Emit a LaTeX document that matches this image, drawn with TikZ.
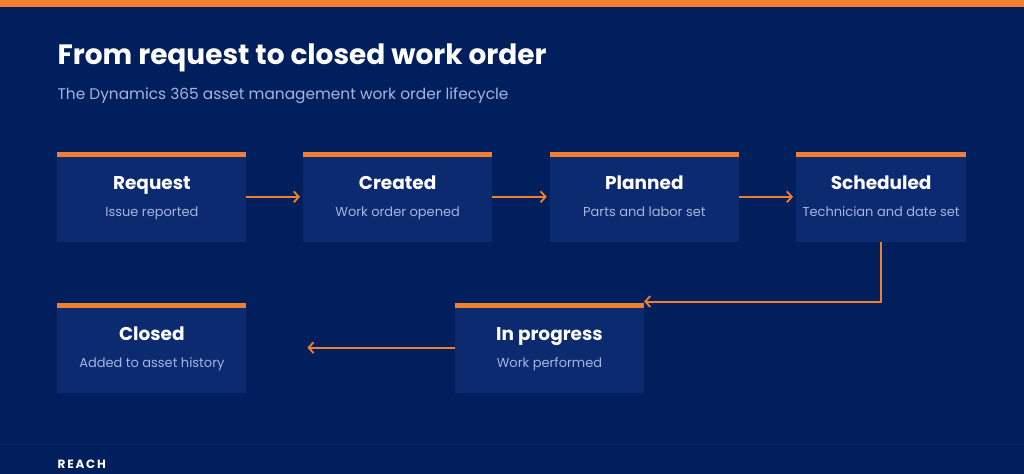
\documentclass[tikz,border=0pt]{standalone}
\usepackage{fontspec}
\setmainfont{Poppins}
\usetikzlibrary{arrows.meta}
\definecolor{navy}{RGB}{0,31,92}
\definecolor{boxblue}{RGB}{11,42,112}
\definecolor{accent}{RGB}{240,128,48}
\definecolor{softblue}{RGB}{165,182,222}
\definecolor{rule}{RGB}{10,40,105}
\begin{document}
\begin{tikzpicture}[x=1pt,y=-1pt,
	stage/.style={fill=boxblue, minimum width=189pt, minimum height=90pt, inner sep=0pt},
	stagetitle/.style={anchor=base, text=white, font=\fontsize{18.5}{22}\selectfont\bfseries},
	stagesub/.style={anchor=base, text=softblue, font=\fontsize{13}{16}\selectfont},
	flow/.style={draw=accent, line width=2pt, -{Straight Barb[length=5pt,width=11pt,line width=1.8pt]}}]
		% background and top band
		\fill[navy] (0,0) rectangle (1024,474);
		\fill[accent] (0,0) rectangle (1024,7);
		\draw[rule, line width=1pt] (0,445) -- (1024,445);

		\node[anchor=base west, inner sep=0pt, text=white, font=\fontsize{28}{32}\selectfont\bfseries] (title) at (57,65) {From request to closed work order};
		\node[anchor=base west, inner sep=0pt, text=softblue, font=\fontsize{15.4}{18}\selectfont] (subtitle) at (57,100) {The Dynamics 365 asset management work order lifecycle};

		% stages
		\node[stage] (req) at (151.5,197) {};
		\node[stage] (cre) at (397.5,197) {};
		\node[stage] (pla) at (644.5,197) {};
		\node[stage, minimum width=170pt] (sch) at (881.5,197) {};
		\node[stage] (clo) at (151.5,348) {};
		\node[stage] (inp) at (549.5,348) {};

		\foreach \n in {req,cre,pla,sch,clo,inp}
			\fill[accent] (\n.north west) rectangle ([yshift=-5pt]\n.north east);

		\node[stagetitle] at ([yshift=7pt]req.center) {Request};
		\node[stagesub] at ([yshift=-20pt]req.center) {Issue reported};
		\node[stagetitle] at ([yshift=7pt]cre.center) {Created};
		\node[stagesub] at ([yshift=-20pt]cre.center) {Work order opened};
		\node[stagetitle] at ([yshift=7pt]pla.center) {Planned};
		\node[stagesub] at ([yshift=-20pt]pla.center) {Parts and labor set};
		\node[stagetitle] at ([yshift=7pt]sch.center) {Scheduled};
		\node[stagesub] at ([yshift=-20pt]sch.center) {Technician and date set};
		\node[stagetitle] at ([yshift=7pt]clo.center) {Closed};
		\node[stagesub] at ([yshift=-20pt]clo.center) {Added to asset history};
		\node[stagetitle] at ([yshift=7pt]inp.center) {In progress};
		\node[stagesub] at ([yshift=-20pt]inp.center) {Work performed};

		% connectors
		\coordinate (cloin) at ([xshift=61pt]clo.east);
		\draw[flow, shorten >=3pt] (req.east) -- (cre.west);
		\draw[flow, shorten >=3pt] (cre.east) -- (pla.west);
		\draw[flow, shorten >=3pt] (pla.east) -- (sch.west);
		\draw[flow] (sch.south) |- ([yshift=1pt]inp.north east);
		\draw[flow] (inp.west) -- (cloin);

		\node[anchor=base west, inner sep=0pt, text=white, font=\fontsize{12}{14}\selectfont\bfseries\addfontfeature{LetterSpace=15}] (brand) at (57,469) {REACH};
	\end{tikzpicture}
\end{document}
